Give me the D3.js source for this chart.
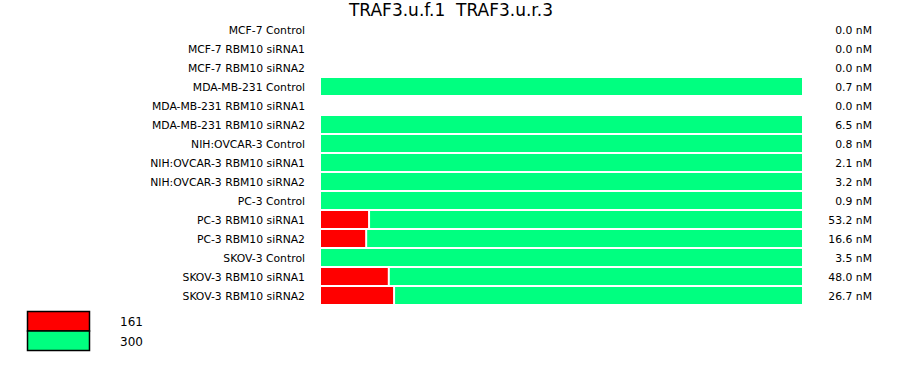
<!DOCTYPE html>
<html lang="en">
<head>
<meta charset="utf-8">
<title>TRAF3 chart</title>
<script src="https://cdn.jsdelivr.net/npm/d3@7"></script>
<style>
body { margin: 0; background: #fff; }
text { font-family: "DejaVu Sans", Verdana, sans-serif; fill: #000; }
</style>
</head>
<body>
<script>
// samples, top to bottom
var samples = ["MCF-7 Control", "MCF-7 RBM10 siRNA1", "MCF-7 RBM10 siRNA2",
  "MDA-MB-231 Control", "MDA-MB-231 RBM10 siRNA1", "MDA-MB-231 RBM10 siRNA2",
  "NIH:OVCAR-3 Control", "NIH:OVCAR-3 RBM10 siRNA1", "NIH:OVCAR-3 RBM10 siRNA2",
  "PC-3 Control", "PC-3 RBM10 siRNA1", "PC-3 RBM10 siRNA2",
  "SKOV-3 Control", "SKOV-3 RBM10 siRNA1", "SKOV-3 RBM10 siRNA2"];

// share of each product (percent of the bar)
var share161 = [0, 0, 0, 0, 0, 0, 0, 0, 0, 0, 10.2, 9.6, 0, 14.3, 15.4];
var share300 = [0, 0, 0, 100, 0, 100, 100, 100, 100, 100, 89.8, 90.4, 100, 85.7, 84.6];

// total concentration, nM
var conc = [0.0, 0.0, 0.0, 0.7, 0.0, 6.5, 0.8, 2.1, 3.2, 0.9, 53.2, 16.6, 3.5, 48.0, 26.7];

var seriesNames = ["161", "300"];
var colors = ["#ff0000", "#00ff80"];

var w = 900, h = 375;

var svg = d3.select("body").append("svg")
  .attr("width", w)
  .attr("height", h);

svg.append("text")
  .attr("x", 451)
  .attr("y", 16)
  .attr("text-anchor", "middle")
  .style("font-size", "17px")
  .style("white-space", "pre")
  .attr("xml:space", "preserve")
  .text("TRAF3.u.f.1  TRAF3.u.r.3");

var x = d3.scaleLinear().domain([0, 100]).range([321, 802]);
var y = d3.scaleBand().domain(samples).range([20, 305])
  .paddingInner(2 / 19).paddingOuter(1 / 19);

var rows = samples.map(function(s, i) {
  return { name: s, parts: [share161[i], share300[i]], conc: conc[i] };
});

var row = svg.selectAll("g.row")
  .data(rows)
  .enter()
  .append("g")
  .attr("class", "row");

row.append("text")
  .attr("x", 305)
  .attr("y", function(d) { return y(d.name) + y.bandwidth() / 2 + 4; })
  .attr("text-anchor", "end")
  .style("font-size", "10.8px")
  .text(function(d) { return d.name; });

row.append("text")
  .attr("x", 872)
  .attr("y", function(d) { return y(d.name) + y.bandwidth() / 2 + 4; })
  .attr("text-anchor", "end")
  .style("font-size", "10.8px")
  .text(function(d) { return d.conc.toFixed(1) + " nM"; });

row.each(function(d) {
  var g = d3.select(this);
  var start = 0;
  var last = d.parts[1] > 0 ? 1 : 0;
  d.parts.forEach(function(v, k) {
    if (v <= 0) return;
    var x0 = x(start), x1 = x(start + v);
    var gap = (k < last) ? 2 : 0;
    g.append("rect")
      .attr("x", x0)
      .attr("y", y(d.name))
      .attr("width", Math.max(0, x1 - x0 - gap))
      .attr("height", y.bandwidth())
      .style("fill", colors[k]);
    start += v;
  });
});

// legend
var legend = svg.selectAll("g.legend")
  .data(seriesNames)
  .enter()
  .append("g")
  .attr("class", "legend");

legend.append("rect")
  .attr("x", 27.5)
  .attr("y", function(d, i) { return 311.5 + i * 19.5; })
  .attr("width", 62)
  .attr("height", 19.5)
  .style("fill", function(d, i) { return colors[i]; })
  .style("stroke", "#000")
  .style("stroke-width", 1.5);

legend.append("text")
  .attr("x", 120)
  .attr("y", function(d, i) { return 326 + i * 19.5; })
  .style("font-size", "12px")
  .text(function(d) { return d; });
</script>
</body>
</html>
